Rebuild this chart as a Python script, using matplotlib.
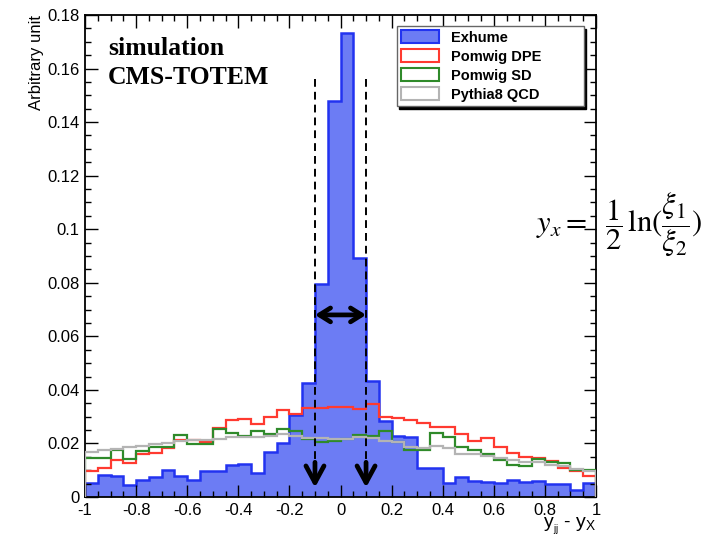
import numpy as np
import matplotlib
matplotlib.use("Agg")
import matplotlib.pyplot as plt
from matplotlib.patches import Patch
from matplotlib.ticker import MultipleLocator, FixedFormatter, FixedLocator

plt.rcParams['font.family'] = ['Liberation Sans', 'DejaVu Sans']
plt.rcParams['mathtext.fontset'] = 'stix'

# 40 bins of width 0.05 between -1 and 1
edges = np.linspace(-1, 1, 41)

exhume = [0.0054, 0.0082, 0.0078, 0.0045, 0.0063, 0.0075, 0.0102, 0.0078, 0.0065, 0.0097,
          0.0096, 0.0118, 0.0124, 0.0091, 0.0169, 0.0201, 0.0305, 0.0424, 0.0795, 0.148,
          0.1733, 0.0893, 0.0434, 0.0285, 0.0228, 0.0225, 0.0107, 0.0107, 0.0051, 0.0076,
          0.0061, 0.0057, 0.0053, 0.0065, 0.0055, 0.0059, 0.0048, 0.0048, 0.0025, 0.0051]

pomwig_dpe = [0.0097, 0.0107, 0.0138, 0.0128, 0.0159, 0.0165, 0.0182, 0.0213, 0.0213, 0.0206,
              0.0259, 0.0287, 0.0290, 0.0271, 0.0299, 0.0325, 0.0310, 0.0331, 0.0331, 0.0338,
              0.0337, 0.0327, 0.0346, 0.0300, 0.0294, 0.0287, 0.0277, 0.0262, 0.0262, 0.0235,
              0.0208, 0.0221, 0.0185, 0.0163, 0.0150, 0.0145, 0.0136, 0.0108, 0.0099, 0.0077]

pomwig_sd = [0.0144, 0.0144, 0.0177, 0.0142, 0.0170, 0.0187, 0.0187, 0.0232, 0.0199, 0.0199,
             0.0253, 0.0238, 0.0227, 0.0245, 0.0234, 0.0253, 0.0245, 0.0216, 0.0205, 0.0210,
             0.0216, 0.0233, 0.0229, 0.0248, 0.0205, 0.0174, 0.0174, 0.0239, 0.0223, 0.0187,
             0.0176, 0.0162, 0.0140, 0.0118, 0.0116, 0.0143, 0.0132, 0.0126, 0.0100, 0.0100]

pythia8 = [0.0168, 0.0175, 0.0180, 0.0187, 0.0191, 0.0197, 0.0203, 0.0211, 0.0214, 0.0213,
           0.0215, 0.0223, 0.0223, 0.0225, 0.0228, 0.0235, 0.0228, 0.0219, 0.0219, 0.0215,
           0.0216, 0.0223, 0.0219, 0.0210, 0.0206, 0.0185, 0.0182, 0.0190, 0.0182, 0.0160,
           0.0162, 0.0154, 0.0144, 0.0138, 0.0132, 0.0130, 0.0121, 0.0115, 0.0105, 0.0099]

labels = ["Exhume", "Pomwig DPE", "Pomwig SD", "Pythia8 QCD"]
colors = ["#2233f0", "#ff3a30", "#2f8a2a", "#b4b4b4"]
fill_color = "#6c7cf4"

x_ticks = [-1, -0.8, -0.6, -0.4, -0.2, 0, 0.2, 0.4, 0.6, 0.8, 1]
x_ticklabels = ["-1", "-0.8", "-0.6", "-0.4", "-0.2", "0", "0.2", "0.4", "0.6", "0.8", "1"]
y_ticks = [0, 0.02, 0.04, 0.06, 0.08, 0.1, 0.12, 0.14, 0.16, 0.18]
y_ticklabels = ["0", "0.02", "0.04", "0.06", "0.08", "0.1", "0.12", "0.14", "0.16", "0.18"]

window = [-0.1, 0.1]

fig = plt.figure(figsize=(7.18, 5.41), dpi=100)
ax = fig.add_axes([0.1185, 0.0813, 0.7115, 0.8910])

ax.stairs(exhume, edges, fill=True, color=fill_color, zorder=1)
ax.stairs(exhume, edges, color=colors[0], lw=1.8, zorder=2)
ax.stairs(pomwig_dpe, edges, color=colors[1], lw=1.6, zorder=3)
ax.stairs(pomwig_sd, edges, color=colors[2], lw=1.6, zorder=3)
ax.stairs(pythia8, edges, color=colors[3], lw=1.6, zorder=3)

ax.set_xlim(-1, 1)
ax.set_ylim(0, 0.18)

ax.xaxis.set_major_locator(FixedLocator(x_ticks))
ax.xaxis.set_major_formatter(FixedFormatter(x_ticklabels))
ax.xaxis.set_minor_locator(MultipleLocator(0.05))
ax.yaxis.set_major_locator(FixedLocator(y_ticks))
ax.yaxis.set_major_formatter(FixedFormatter(y_ticklabels))
ax.yaxis.set_minor_locator(MultipleLocator(0.005))
ax.tick_params(which='both', direction='in', top=True, right=True, width=1.0)
ax.tick_params(which='major', length=9, labelsize=12, pad=4)
ax.tick_params(which='minor', length=4.5)
for s in ax.spines.values():
    s.set_linewidth(1.3)
ax.set_axisbelow(False)

ax.set_ylabel("Arbitrary unit", fontsize=12, loc='top', labelpad=2)
ax.set_xlabel(r"$\mathregular{y_{_{jj}}}$ - $\mathregular{y_{X}}$", fontsize=14, loc='right', labelpad=-1)

# dashed window lines with arrows
for xv in window:
    ax.plot([xv, xv], [0.156, 0.008], ls=(0, (4, 2.6)), color='black', lw=1.4, zorder=5)
    ax.annotate('', xy=(xv, 0.0025), xytext=(xv, 0.014),
                arrowprops=dict(arrowstyle='->,head_length=1.2,head_width=0.65', lw=3.4, color='black'),
                zorder=6)
ax.annotate('', xy=(window[0], 0.068), xytext=(window[1], 0.068),
            arrowprops=dict(arrowstyle='<->,head_length=0.8,head_width=0.5', lw=3.4,
                            color='black', shrinkA=0, shrinkB=0), zorder=6)

ax.text(0.045, 0.918, "simulation", transform=ax.transAxes, fontsize=18.5,
        fontweight='bold', family='Liberation Serif', va='baseline')
ax.text(0.045, 0.857, "CMS-TOTEM", transform=ax.transAxes, fontsize=18.5,
        fontweight='bold', family='Liberation Serif', va='baseline')

handles = [Patch(facecolor=fill_color, edgecolor=colors[0], lw=1.5)]
handles += [Patch(facecolor='white', edgecolor=c, lw=1.5) for c in colors[1:]]
leg = ax.legend(handles, labels, loc='upper left', bbox_to_anchor=(0.61, 0.977, 0.366, 0.0),
                mode='expand', fancybox=False, frameon=True, borderaxespad=0,
                shadow={'color': 'black', 'alpha': 1.0},
                prop={'weight': 'bold', 'size': 10.5}, handlelength=2.6, handleheight=1.0,
                labelspacing=0.3, borderpad=0.3, handletextpad=0.8)
leg.get_frame().set_edgecolor('#666666')
leg.get_frame().set_linewidth(1.0)
leg.set_zorder(10)

# formula on the right, outside the frame
fig.text(0.746, 0.585, r"$y_x = $", fontsize=22, va='center', ha='left')
fig.text(0.843, 0.585, r"$\dfrac{1}{2}\,\mathrm{ln}(\dfrac{\xi_1}{\xi_2})$",
         fontsize=22, va='center', ha='left')

fig.savefig("out.png", dpi=100)
